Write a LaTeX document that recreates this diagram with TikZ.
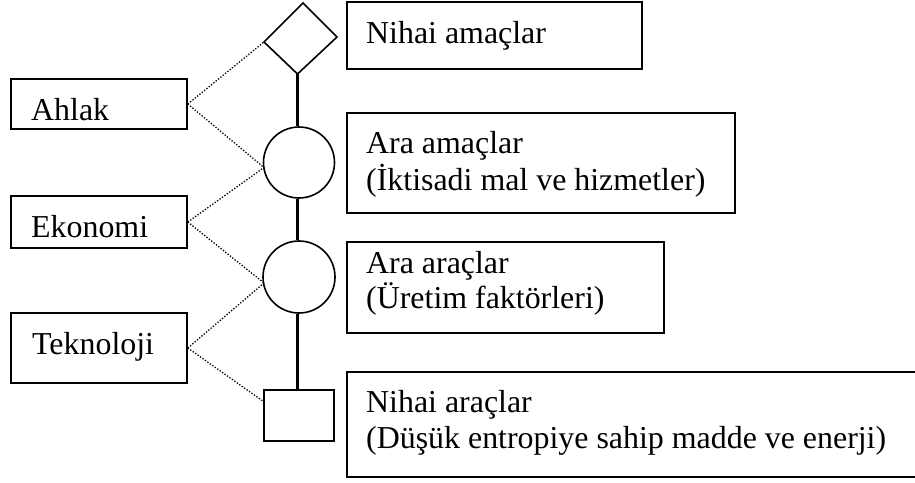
\documentclass[tikz,border=0pt]{standalone}
\usepackage{fontspec}
\setmainfont{Liberation Serif}
\usetikzlibrary{shapes.geometric,calc}
\begin{document}
\begin{tikzpicture}[x=1pt,y=-1pt,
  box/.style={draw,line width=1.6pt,rectangle,inner sep=0pt},
  shp/.style={draw,line width=1.6pt,inner sep=0pt},
  txt/.style={anchor=base west,inner sep=0pt,font=\fontsize{31.9}{37}\selectfont},
  spine/.style={line width=3.2pt},
  link/.style={line width=1.3pt,dash pattern=on 1.3pt off 1.7pt}]
\useasboundingbox (0,0) rectangle (915,482);
% left boxes
\node[box,minimum width=176pt,minimum height=50pt] (ahlak) at (99,104) {};
\node[box,minimum width=176pt,minimum height=52pt] (eko) at (99,222) {};
\node[box,minimum width=176pt,minimum height=70pt] (tek) at (99,348) {};
\node[txt] (tahlak) at (31,120) {Ahlak};
\node[txt] (teko) at (31,237) {Ekonomi};
\node[txt] (ttek) at (32,354) {Teknoloji};
% spine shapes
\coordinate (dT) at (303,3);
\coordinate (dR) at (337,37);
\coordinate (dB) at (297.5,74);
\coordinate (dL) at (264,42);
\draw[line width=1.6pt,line join=miter] (dT) -- (dR) -- (dB) -- (dL) -- cycle;
\node[shp,circle,minimum size=71pt] (c1) at (299,162.5) {};
\node[shp,circle,minimum size=72pt] (c2) at (299,277) {};
\node[shp,rectangle,minimum width=70pt,minimum height=51pt] (sq) at (299,415.5) {};
\draw[spine] (dB) -- (dB |- c1.north);
\draw[spine] (c1.south -| dB) -- (c2.north -| dB);
\draw[spine] (c2.south -| dB) -- (sq.north -| dB);
% right boxes
\node[box,minimum width=295pt,minimum height=67pt] (r1) at (494.5,35.5) {};
\node[box,minimum width=388pt,minimum height=100pt] (r2) at (541,163) {};
\node[box,minimum width=317pt,minimum height=91pt] (r3) at (505.5,287.5) {};
\node[box,minimum width=575pt,minimum height=105pt] (r4) at (634.5,424.5) {};
\node[txt] (t1) at (366,43) {Nihai amaçlar};
\node[txt] (t2a) at (366,153) {Ara amaçlar};
\node[txt] (t2b) at (366,190) {(İktisadi mal ve hizmetler)};
\node[txt] (t3a) at (366,273) {Ara araçlar};
\node[txt] (t3b) at (366,308) {(Üretim faktörleri)};
\node[txt] (t4a) at (366,412) {Nihai araçlar};
\node[txt] (t4b) at (366,448) {(Düşük entropiye sahip madde ve enerji)};
% dotted links
\coordinate (c1in) at ($(c1.center)+(-35,5)$);
\coordinate (c2in) at ($(c2.center)+(-35,6)$);
\coordinate (sqin) at ($(sq.north west)!0.23!(sq.south west)$);
\draw[link] (ahlak.east) -- (dL);
\draw[link] (ahlak.east) -- (c1in);
\draw[link] (eko.east) -- (c1in);
\draw[link] (eko.east) -- (c2in);
\draw[link] (tek.east) -- (c2in);
\draw[link] (tek.east) -- (sqin);
\end{tikzpicture}
\end{document}
